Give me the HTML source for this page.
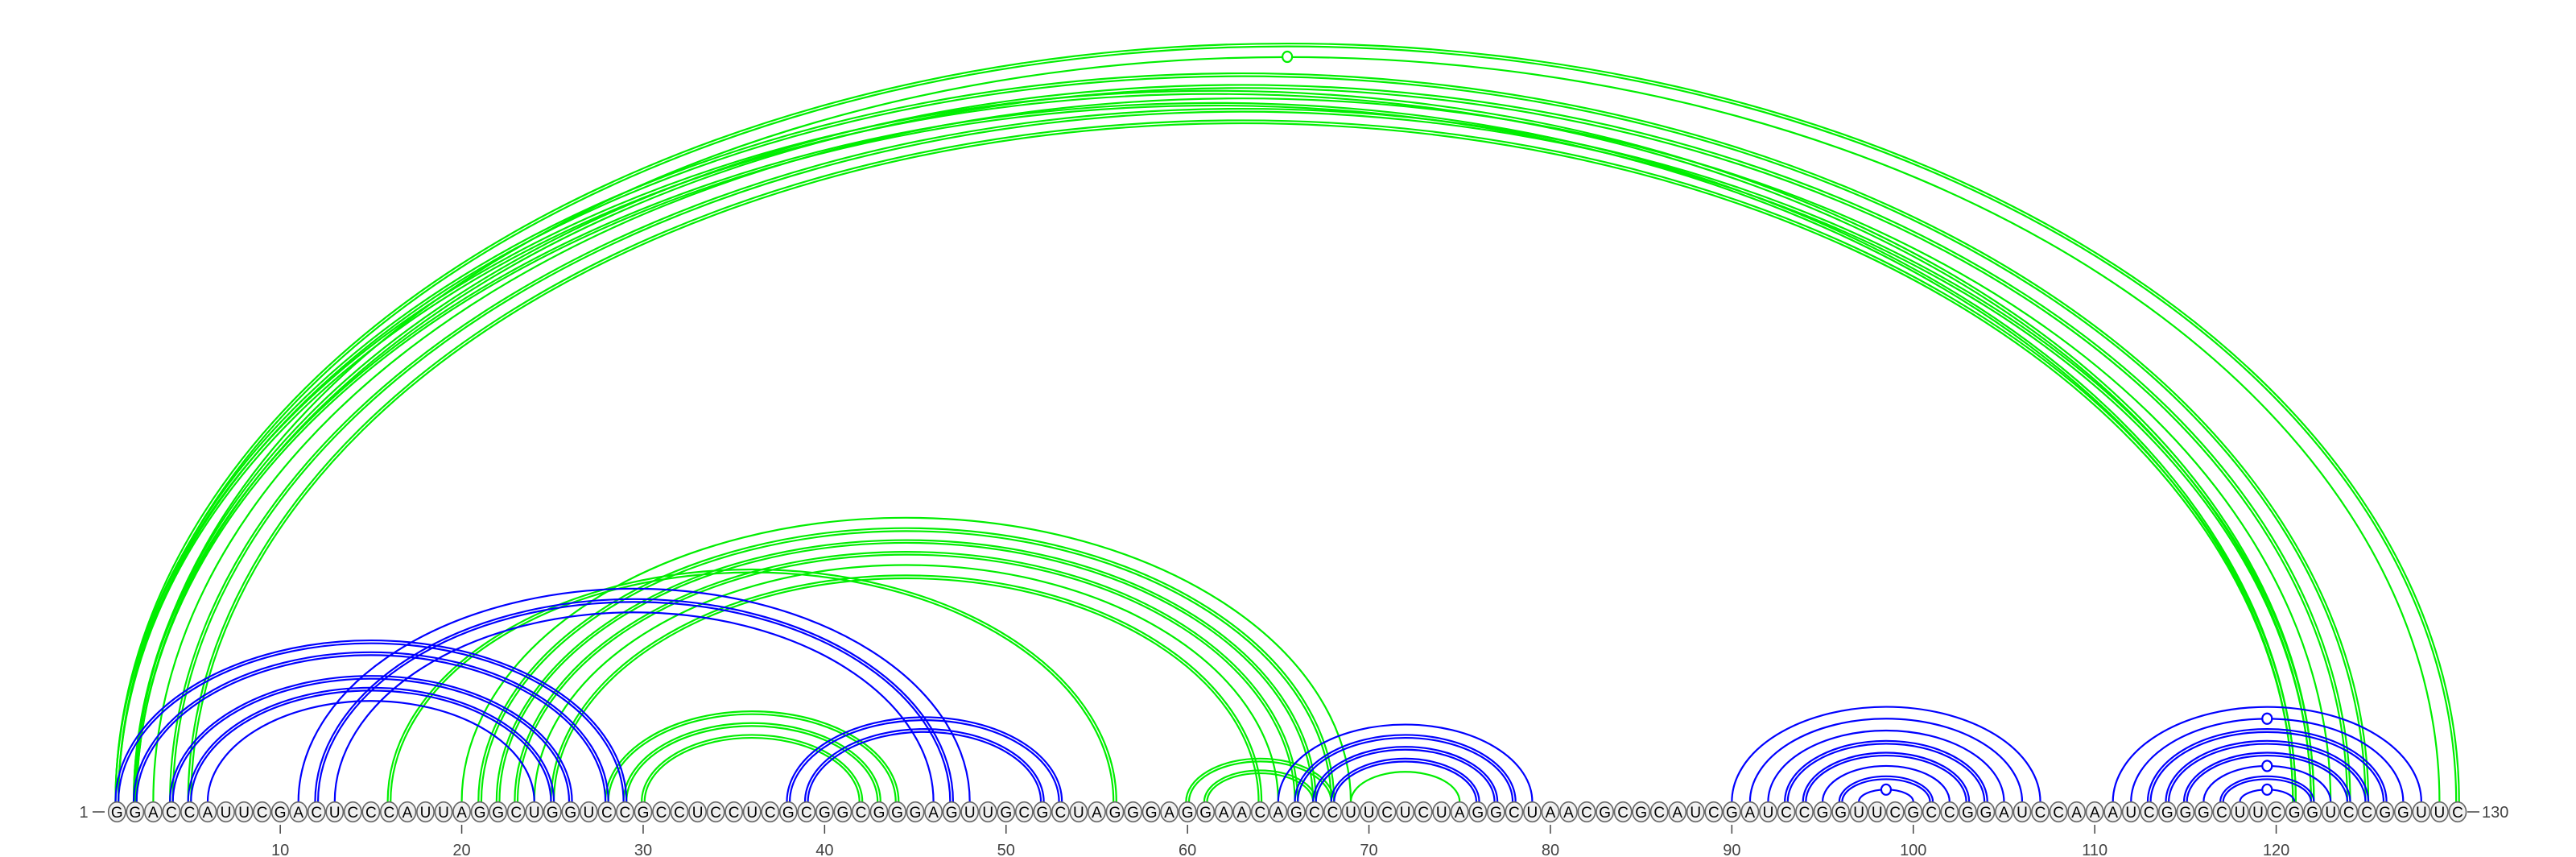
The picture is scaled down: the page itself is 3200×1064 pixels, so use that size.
<!DOCTYPE html>
<html><head><meta charset="utf-8"><style>
html,body{margin:0;padding:0;background:#fff;}
svg{display:block;}
</style></head><body>
<svg id="chart" width="3200" height="1064" viewBox="0 0 3200 1064" xmlns="http://www.w3.org/2000/svg">
<g id="arcs"></g>
<g id="nts"></g>
<g id="axis"></g>
</svg>
<script>
const sequence = "GGACCAUUCGACUCCCAUUAGGCUGGUCCGCCUCCUCGCGGCGGGAGUUGCGCUAGGGAGGAACAGCCUUCUCUAGGCUAACGCGCAUCGAUCCGGUUCGCCGGAUCCAAAUCGGGCUUCGGUCCGGUUC";
const tickPositions = [10,20,30,40,50,60,70,80,90,100,110,120];
// pairs: [i, j, double(1)/single(0), marker(1)/none(0)]
const bluePairs = [
 [1,29,1,0],[2,28,1,0],[4,26,1,0],[5,25,1,0],[6,24,0,0],
 [11,48,0,0],[12,47,1,0],[13,46,0,0],
 [38,53,1,0],[39,52,1,0],
 [65,79,0,0],[66,78,1,0],[67,77,1,0],[68,76,1,0],
 [90,107,0,0],[91,106,0,0],[92,105,0,0],[93,104,1,0],[94,103,1,0],[95,102,0,0],[96,101,1,0],[97,100,0,1],
 [111,128,0,0],[112,127,0,1],[113,126,1,0],[114,125,1,0],[115,124,1,0],[116,123,0,1],[117,122,1,0],[118,121,0,1]
];
const greenPairs = [
 [1,130,1,0],[2,129,0,1],[1,125,1,0],[2,124,1,0],[3,123,0,0],[4,122,1,0],[5,121,1,0],[1,122,1,0],[2,121,1,0],
 [16,56,1,0],[20,69,0,0],[21,68,1,0],[22,67,1,0],[23,66,1,0],[24,65,0,0],[25,64,1,0],
 [28,44,1,0],[29,43,1,0],[30,42,1,0],
 [60,68,1,0],[61,67,1,0],[69,75,0,0]
];
const NS="http://www.w3.org/2000/svg";
const X0=145.3, STEP=22.54, BASE=1008, FOOT=995.5;
function xPos(i){return X0+(i-1)*STEP;}
function mk(tag,attrs,parent){const e=document.createElementNS(NS,tag);for(const k in attrs)e.setAttribute(k,attrs[k]);parent.appendChild(e);return e;}
const arcsG=document.getElementById('arcs');
function drawPairs(pairs,color,label){
  pairs.forEach(p=>{
    const x1=xPos(p[0]),x2=xPos(p[1]);
    const rx=(x2-x1)/2, ry=Math.max(6,0.651*rx-6.8);
    const g=mk('g',{},arcsG);
    
    
    const offs=p[2]?[-1.8,1.8]:[0];
    offs.forEach(o=>{
      const a=x1-o, b=x2+o, r=rx+o, s=ry+o;
      mk('path',{d:`M${a},${FOOT} A${r},${s} 0 0 1 ${b},${FOOT}`,fill:'none',stroke:color,'stroke-width':2.2},g);
    });
    if(p[3]){
      const c=mk('ellipse',{cx:(x1+x2)/2,cy:FOOT-ry,rx:6,ry:6.5,fill:'#fff',stroke:color,'stroke-width':2.2},g);
      
      
    }
  });
}
drawPairs(greenPairs,'#00ee00','green');
drawPairs(bluePairs,'#0000ff','blue');
const ntG=document.getElementById('nts');
for(let i=0;i<sequence.length;i++){
  const g=mk('g',{},ntG);
  
  
  mk('ellipse',{cx:xPos(i+1),cy:BASE,rx:10.6,ry:12.3,fill:'#f0f0f0',stroke:'#666','stroke-width':1.6},g);
  const t=mk('text',{x:xPos(i+1),y:BASE+7,'text-anchor':'middle','font-family':'Liberation Sans, sans-serif','font-size':19,fill:'#000'},g);
  t.textContent=sequence[i];
}
const ax=document.getElementById('axis');
tickPositions.forEach(v=>{
  const g=mk('g',{},ax);
  
  
  mk('line',{x1:xPos(v),x2:xPos(v),y1:1024,y2:1035,stroke:'#444','stroke-width':1.5},g);
  const t=mk('text',{x:xPos(v),y:1062,'text-anchor':'middle','font-family':'Liberation Sans, sans-serif','font-size':20,fill:'#444'},g);
  t.textContent=v;
});
const sl=mk('text',{x:104,y:1015,'text-anchor':'middle','font-family':'Liberation Sans, sans-serif','font-size':20,fill:'#444'},ax);


sl.textContent='1';
mk('line',{x1:115,x2:130,y1:1008,y2:1008,stroke:'#444','stroke-width':1.5},ax);
mk('line',{x1:3065,x2:3080,y1:1008,y2:1008,stroke:'#444','stroke-width':1.5},ax);
const el=mk('text',{x:3083,y:1015,'text-anchor':'start','font-family':'Liberation Sans, sans-serif','font-size':20,fill:'#444'},ax);


el.textContent='130';
</script>
</body></html>
